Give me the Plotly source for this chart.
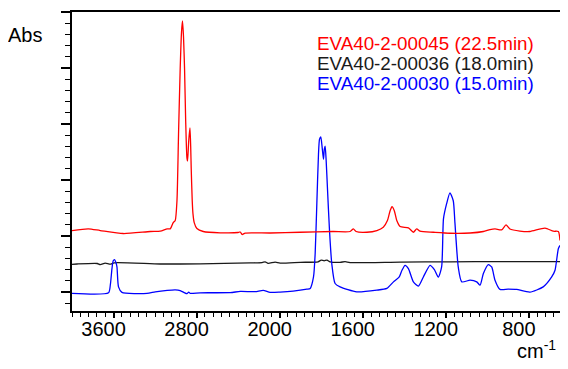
import plotly.graph_objects as go

# ---- data (wavenumber cm-1, absorbance) ----
red_wn = [4000, 3843, 3728, 3506, 3246, 3150, 3083, 3054, 3025, 3006, 2989, 2974, 2958, 2945,
          2936, 2926, 2916, 2905, 2893, 2887, 2876, 2864, 2857, 2852, 2842, 2835, 2823, 2797,
          2736, 2573, 2400, 2380, 2361, 2332, 2092, 1901, 1743, 1661, 1645, 1632, 1580, 1532,
          1501, 1481, 1468, 1459, 1448, 1436, 1420, 1380, 1356, 1340, 1324, 1260, 1180, 1083,
          1019, 987, 963, 931, 910, 891, 843, 795, 722, 682, 658, 650]
red_abs = [0.1099, 0.1129, 0.1099, 0.1046, 0.1082, 0.1087, 0.1129, 0.1129, 0.1241, 0.1277,
           0.1631, 0.2819, 0.3989, 0.4645, 0.4840, 0.4557, 0.3989, 0.3050, 0.2394, 0.2340,
           0.2695, 0.2931, 0.2606, 0.2216, 0.1631, 0.1401, 0.1241, 0.1135, 0.1082, 0.1059,
           0.1064, 0.1073, 0.1028, 0.1055, 0.1055, 0.1069, 0.1082, 0.1082, 0.1129, 0.1082,
           0.1069, 0.1099, 0.1158, 0.1277, 0.1454, 0.1525, 0.1454, 0.1277, 0.1170, 0.1147,
           0.1069, 0.1129, 0.1087, 0.1069, 0.1051, 0.1055, 0.1082, 0.1117, 0.1129, 0.1112,
           0.1200, 0.1126, 0.1090, 0.1082, 0.1144, 0.1087, 0.1082, 0.0922]

black_wn = [4000, 3952, 3757, 3728, 3680, 3632, 3593, 3150, 2766, 2284, 2169, 2140, 2111,
            2044, 1998, 1901, 1815, 1800, 1786, 1772, 1757, 1709, 1685, 1661, 1420, 1180,
            939, 650]
black_abs = [0.0496, 0.0502, 0.0511, 0.0491, 0.0518, 0.0498, 0.0523, 0.0502, 0.0505, 0.0523,
             0.0527, 0.0541, 0.0514, 0.0535, 0.0518, 0.0532, 0.0541, 0.0571, 0.0559, 0.0571,
             0.0541, 0.0532, 0.0544, 0.0527, 0.0537, 0.0541, 0.0544, 0.0546]

blue_wn = [4000, 3648, 3631, 3615, 3603, 3591, 3578, 3567, 3552, 3519, 3278, 3198, 3083,
           3006, 2958, 2919, 2893, 2876, 2862, 2766, 2476, 2380, 2235, 2158, 2092, 1998,
           1935, 1869, 1853, 1837, 1829, 1821, 1813, 1808, 1802, 1796, 1789, 1785, 1781,
           1776, 1770, 1760, 1749, 1733, 1709, 1629, 1532, 1484, 1452, 1424, 1411, 1396,
           1380, 1356, 1332, 1308, 1276, 1255, 1236, 1220, 1211, 1196, 1180, 1164, 1156,
           1140, 1123, 1083, 1051, 1035, 1019, 995, 979, 963, 939, 900, 859, 795, 731, 690,
           674, 658, 650]
blue_abs = [-0.0023, -0.0012, 0.0124, 0.0420, 0.0559, 0.0580, 0.0532, 0.0449, 0.0094, -0.0005,
            -0.0023, 0.0005, 0.0030, 0.0039, 0.0027, -0.0009, -0.0027, 0.0000, -0.0023,
            -0.0012, -0.0009, 0.0012, 0.0009, 0.0030, -0.0005, 0.0000, 0.0018, 0.0053, 0.0066,
            0.0271, 0.0691, 0.1578, 0.2465, 0.2730, 0.2771, 0.2606, 0.2371, 0.2553, 0.2606,
            0.2340, 0.1867, 0.1099, 0.0509, 0.0154, 0.0094, 0.0005, 0.0035, 0.0066, 0.0183,
            0.0271, 0.0390, 0.0479, 0.0420, 0.0183, 0.0106, 0.0271, 0.0479, 0.0402, 0.0266,
            0.0449, 0.1312, 0.1578, 0.1773, 0.1631, 0.1241, 0.0449, 0.0183, 0.0213, 0.0183,
            0.0124, 0.0332, 0.0491, 0.0449, 0.0213, 0.0048, 0.0053, 0.0048, 0.0000, 0.0094,
            0.0271, 0.0390, 0.0775, 0.0833]

tick_wn = [3600, 2800, 2000, 1600, 1200, 800]
tick_text = ["3600", "2800", "2000", "1600", "1200", "800"]

legend_text = ["EVA40-2-00045 (22.5min)", "EVA40-2-00036 (18.0min)", "EVA40-2-00030 (15.0min)"]
colors = ["#ff0000", "#1a1a1a", "#0000ff"]


# wavenumber axis: region above 2000 cm-1 drawn at half scale
def scale(w):
    return w if w <= 2000 else 2000 + (w - 2000) / 2


fig = go.Figure()
for wn, ab, col, name in [(black_wn, black_abs, colors[1], legend_text[1]),
                          (blue_wn, blue_abs, colors[2], legend_text[2]),
                          (red_wn, red_abs, colors[0], legend_text[0])]:
    fig.add_trace(go.Scatter(x=[scale(w) for w in wn], y=ab, mode="lines",
                             line=dict(color=col, width=1.3, shape="spline", smoothing=0.6),
                             name=name, showlegend=False))

font = "Arial, Liberation Sans, sans-serif"
# the page body adds an 8px offset, so the figure is 8px smaller than the window
fig.update_layout(
    width=560, height=361,
    margin=dict(l=64, r=8, t=2, b=58),
    plot_bgcolor="white", paper_bgcolor="white",
    font=dict(family=font, size=20, color="black"),
    xaxis=dict(range=[scale(4000), scale(650)], tickmode="array",
               tickvals=[scale(w) for w in tick_wn], ticktext=tick_text,
               ticks="outside", ticklen=5, tickwidth=1.5, tickcolor="black",
               showline=True, linecolor="black", linewidth=2, mirror=True,
               showgrid=False, zeroline=False, ticklabelshift=10,
               ticklabelstandoff=-6,
               tickfont=dict(size=20),
               minor=dict(dtick=40, tick0=0, ticks="outside", ticklen=4,
                          tickwidth=1.3, tickcolor="black", showgrid=False)),
    yaxis=dict(range=[-0.0337, 0.5], dtick=0.1, tick0=0, showticklabels=False,
               ticks="outside", ticklen=9, tickwidth=1.5, tickcolor="black",
               showline=True, linecolor="black", linewidth=2, mirror=True,
               showgrid=False, zeroline=False,
               minor=dict(dtick=0.02, tick0=0, ticks="outside", ticklen=5,
                          tickwidth=1.3, tickcolor="black", showgrid=False)),
)

# annotation positions expressed relative to the plot area (screen px 71.7..560, 10..311)
W, H = 488.3, 301.0
def px(xp):
    return (xp - 71.7) / W
def py(yp):
    return (311 - yp) / H

for i, (t, c) in enumerate(zip(legend_text, colors)):
    fig.add_annotation(text=t, xref="paper", yref="paper", x=px(315), y=py(42 + 20 * i),
                       xanchor="left", yanchor="middle", showarrow=False,
                       font=dict(size=18.8, color=c, family=font))

fig.add_annotation(text="Abs", xref="paper", yref="paper", x=px(6), y=py(33),
                   xanchor="left", yanchor="middle", showarrow=False,
                   font=dict(size=20, family=font))
fig.add_annotation(text="cm<sup>-1</sup>", xref="paper", yref="paper", x=px(558), y=py(350),
                   xanchor="right", yanchor="middle", showarrow=False,
                   font=dict(size=20, family=font))

fig.write_html("out.html")
